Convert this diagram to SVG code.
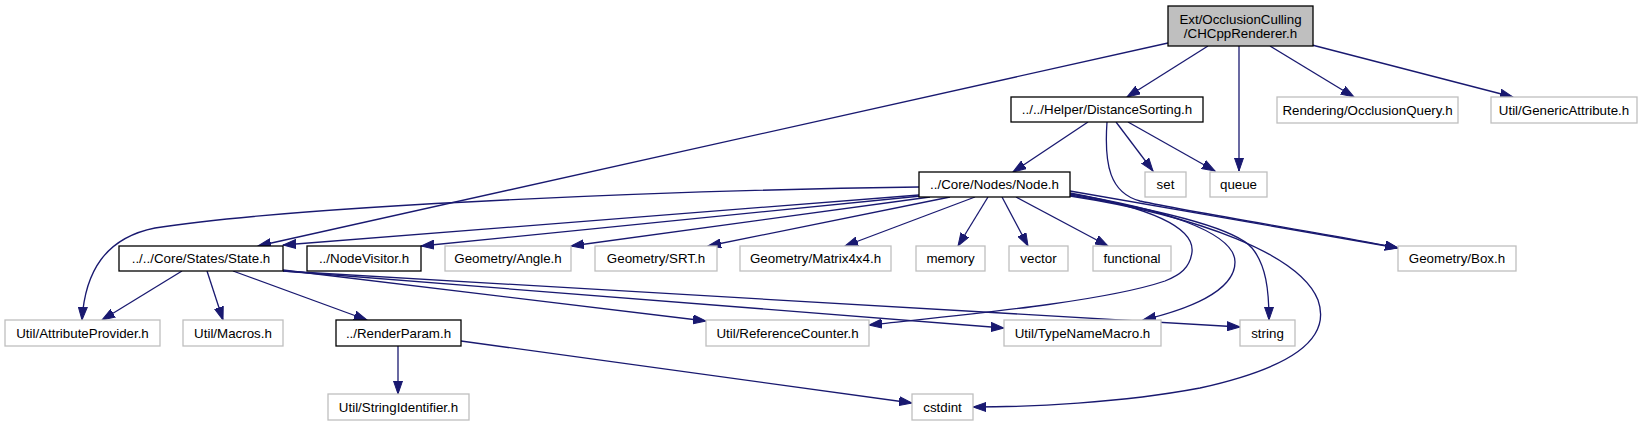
<svg xmlns="http://www.w3.org/2000/svg" width="1648" height="427" viewBox="0 0 1648 427">
<style>
  .n rect { fill: #ffffff; stroke: #bfbfbf; stroke-width: 1.3; }
  .n.d rect { stroke: #000000; }
  .n.r rect { fill: #bfbfbf; stroke: #000000; }
  .n text { font-family: "Liberation Sans", Arial, sans-serif; font-size: 13.33px; fill: #000000; text-anchor: middle; }
  .e path { fill: none; stroke: #191970; stroke-width: 1.3; marker-end: url(#ah); }
</style>
<defs>
  <marker id="ah" markerUnits="userSpaceOnUse" markerWidth="14" markerHeight="10" refX="13" refY="5" orient="auto">
    <path d="M0,0.5 L13,5 L0,9.5 z" fill="#191970" stroke="#191970" stroke-width="1"/>
  </marker>
</defs>
<rect x="0" y="0" width="1648" height="427" fill="#ffffff"/>
<g id="edges" class="e">
  <path d="M1168,43 L258,246"/>
  <path d="M1208,46 L1127,97"/>
  <path d="M1239,46 L1239,171"/>
  <path d="M1270,46 L1354,97"/>
  <path d="M1312,45 L1513,97"/>
  <path d="M1088,122 L1013,172"/>
  <path d="M1116,122 L1153,171"/>
  <path d="M1128,122 L1215,171"/>
  <path d="M1107,122 C1104,165 1110,193 1140,201 C1200,214 1330,234 1398,248"/>
  <path d="M919,187 C700,190 310,204 155,228 C105,238 85,272 82,320"/>
  <path d="M919,195 L283,245"/>
  <path d="M921,196 L421,246"/>
  <path d="M930,197 L571,246"/>
  <path d="M950,197 L708,246"/>
  <path d="M975,197 L845,246"/>
  <path d="M988,197 L958,246"/>
  <path d="M1002,197 L1028,246"/>
  <path d="M1016,197 L1108,246"/>
  <path d="M1070,191 L1398,248"/>
  <path d="M1070,193 C1140,206 1195,225 1192,252 C1190,268 1180,275 1165,281 C1100,303 950,316 869,325"/>
  <path d="M1070,194 C1160,208 1235,232 1235,262 C1235,292 1185,310 1143,320"/>
  <path d="M1070,195 C1160,210 1235,228 1252,248 C1266,265 1269,290 1269,320"/>
  <path d="M1070,196 C1200,216 1300,255 1318,300 C1332,340 1290,368 1200,388 C1120,403 1030,407 973,407"/>
  <path d="M182,271 L102,320"/>
  <path d="M207,271 L223,320"/>
  <path d="M233,271 L367,320"/>
  <path d="M283,270 L706,321"/>
  <path d="M283,271 L1004,328"/>
  <path d="M283,271 L1240,327"/>
  <path d="M398,346 L398,394"/>
  <path d="M461,341 L912,403"/>
</g>
<g id="root" class="n r"><rect x="1168" y="6" width="145" height="40"/><text x="1240.5" y="23.5">Ext/OcclusionCulling</text><text x="1240.5" y="37.5">/CHCppRenderer.h</text></g>
<g id="distancesorting" class="n d"><rect x="1011" y="97" width="192" height="25"/><text x="1107" y="114">../../Helper/DistanceSorting.h</text></g>
<g id="occlusionquery" class="n"><rect x="1277" y="97" width="181" height="26"/><text x="1367.5" y="114.5">Rendering/OcclusionQuery.h</text></g>
<g id="genericattribute" class="n"><rect x="1491" y="97" width="146" height="26"/><text x="1564" y="114.5">Util/GenericAttribute.h</text></g>
<g id="node" class="n d"><rect x="919" y="172" width="151" height="25"/><text x="994.5" y="189">../Core/Nodes/Node.h</text></g>
<g id="set" class="n"><rect x="1145" y="172" width="41" height="25"/><text x="1165.5" y="189">set</text></g>
<g id="queue" class="n"><rect x="1210" y="172" width="57" height="25"/><text x="1238.5" y="189">queue</text></g>
<g id="state" class="n d"><rect x="119" y="246" width="164" height="25"/><text x="201" y="263">../../Core/States/State.h</text></g>
<g id="nodevisitor" class="n d"><rect x="307" y="246" width="114" height="25"/><text x="364" y="263">../NodeVisitor.h</text></g>
<g id="angle" class="n"><rect x="445" y="246" width="126" height="25"/><text x="508" y="263">Geometry/Angle.h</text></g>
<g id="srt" class="n"><rect x="595" y="246" width="122" height="25"/><text x="656" y="263">Geometry/SRT.h</text></g>
<g id="matrix" class="n"><rect x="740" y="246" width="151" height="25"/><text x="815.5" y="263">Geometry/Matrix4x4.h</text></g>
<g id="memory" class="n"><rect x="916" y="246" width="69" height="25"/><text x="950.5" y="263">memory</text></g>
<g id="vector" class="n"><rect x="1009" y="246" width="59" height="25"/><text x="1038.5" y="263">vector</text></g>
<g id="functional" class="n"><rect x="1093" y="246" width="78" height="25"/><text x="1132" y="263">functional</text></g>
<g id="box" class="n"><rect x="1398" y="246" width="118" height="25"/><text x="1457" y="263">Geometry/Box.h</text></g>
<g id="attributeprovider" class="n"><rect x="5" y="320" width="155" height="26"/><text x="82.5" y="337.5">Util/AttributeProvider.h</text></g>
<g id="macros" class="n"><rect x="183" y="320" width="100" height="26"/><text x="233" y="337.5">Util/Macros.h</text></g>
<g id="renderparam" class="n d"><rect x="336" y="320" width="125" height="26"/><text x="398.5" y="337.5">../RenderParam.h</text></g>
<g id="referencecounter" class="n"><rect x="706" y="320" width="163" height="26"/><text x="787.5" y="337.5">Util/ReferenceCounter.h</text></g>
<g id="typenamemacro" class="n"><rect x="1004" y="320" width="157" height="26"/><text x="1082.5" y="337.5">Util/TypeNameMacro.h</text></g>
<g id="string" class="n"><rect x="1240" y="320" width="55" height="26"/><text x="1267.5" y="337.5">string</text></g>
<g id="stringidentifier" class="n"><rect x="328" y="394" width="141" height="26"/><text x="398.5" y="411.5">Util/StringIdentifier.h</text></g>
<g id="cstdint" class="n"><rect x="912" y="394" width="61" height="26"/><text x="942.5" y="411.5">cstdint</text></g>
</svg>
